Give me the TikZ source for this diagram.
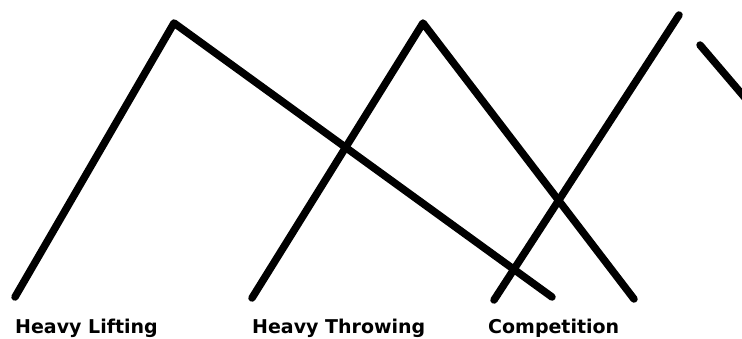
\documentclass[tikz,border=0pt]{standalone}
\usepackage{fontspec}
\setmainfont{DejaVu Sans}
\begin{document}
\begin{tikzpicture}[x=1pt,y=-1pt,
  stroke/.style={line width=7.5pt,line cap=round,line join=round,black},
  label/.style={anchor=base west,inner sep=0pt,font=\fontsize{19}{22}\selectfont\bfseries}]
\useasboundingbox (0,0) rectangle (742,338);
\clip (0,0) rectangle (742,338);
\coordinate (a1) at (15,297);
\coordinate (p1) at (174,23);
\coordinate (b1) at (552,297);
\coordinate (a2) at (252,298);
\coordinate (p2) at (423,23);
\coordinate (b2) at (634,299);
\coordinate (a3) at (494,300);
\coordinate (p3) at (679,15);
\coordinate (a4) at (700,45);
\coordinate (b4) at (752,106);
\draw[stroke] (a1) -- (p1) -- (b1);
\draw[stroke] (a2) -- (p2) -- (b2);
\draw[stroke] (a3) -- (p3);
\draw[stroke] (a4) -- (b4);
\node[label] (t1) at (15,333) {Heavy Lifting};
\node[label] (t2) at (252,333) {Heavy Throwing};
\node[label] (t3) at (488,333) {Competition};
\end{tikzpicture}
\end{document}
